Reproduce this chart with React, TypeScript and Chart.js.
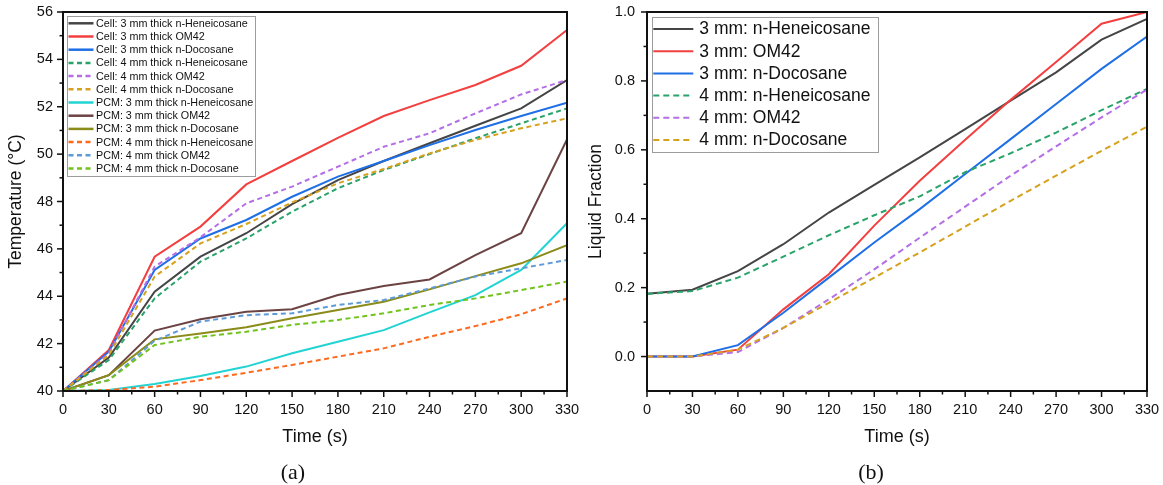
import React, { useEffect, useRef } from 'react';
import { Chart, registerables } from 'chart.js';

Chart.register(...registerables);

const SANS = '"Liberation Sans", Arial, Helvetica, sans-serif';
const SERIF = '"Liberation Serif", "Times New Roman", serif';

// ---------- shared ----------
const times = [0, 30, 60, 90, 120, 150, 180, 210, 240, 270, 300, 330];
const xMajorTicks = [0, 30, 60, 90, 120, 150, 180, 210, 240, 270, 300, 330];
const xMinorTicks = [15, 45, 75, 105, 135, 165, 195, 225, 255, 285, 315];

// ---------- (a) temperature ----------
const tempMajorTicks = [40, 42, 44, 46, 48, 50, 52, 54, 56];
const tempMinorTicks = [41, 43, 45, 47, 49, 51, 53, 55];

const cell3Hen = [40, 41.41, 44.19, 45.67, 46.66, 47.89, 48.9, 49.71, 50.46, 51.2, 51.93, 53.13];
const cell3OM42 = [40, 41.73, 45.67, 46.94, 48.72, 49.71, 50.69, 51.61, 52.28, 52.92, 53.73, 55.24];
const cell3Doc = [40, 41.66, 45.11, 46.44, 47.22, 48.2, 49.05, 49.71, 50.38, 51.02, 51.61, 52.17];
const cell4Hen = [40, 41.31, 43.91, 45.46, 46.44, 47.57, 48.56, 49.33, 50.0, 50.67, 51.3, 51.93];
const cell4OM42 = [40, 41.59, 45.25, 46.49, 47.92, 48.63, 49.47, 50.31, 50.88, 51.72, 52.52, 53.13];
const cell4Doc = [40, 41.52, 44.83, 46.23, 47.05, 47.96, 48.77, 49.37, 50.03, 50.6, 51.09, 51.51];
const pcm3Hen = [40, 40.04, 40.3, 40.63, 41.03, 41.59, 42.08, 42.57, 43.32, 44.05, 45.11, 47.08];
const pcm3OM42 = [40, 40.67, 42.55, 43.03, 43.35, 43.45, 44.05, 44.43, 44.71, 45.74, 46.66, 50.62];
const pcm3Doc = [40, 40.67, 42.18, 42.43, 42.69, 43.07, 43.42, 43.77, 44.29, 44.85, 45.39, 46.16];
const pcm4Hen = [40, 40.04, 40.18, 40.46, 40.77, 41.1, 41.45, 41.8, 42.29, 42.74, 43.24, 43.91];
const pcm4OM42 = [40, 40.46, 42.12, 42.93, 43.2, 43.28, 43.63, 43.84, 44.33, 44.83, 45.18, 45.53];
const pcm4Doc = [40, 40.46, 41.94, 42.29, 42.5, 42.79, 43.0, 43.28, 43.63, 43.91, 44.26, 44.62];

const tempLabels = [
  'Cell: 3 mm thick n-Heneicosane',
  'Cell: 3 mm thick OM42',
  'Cell: 3 mm thick n-Docosane',
  'Cell: 4 mm thick n-Heneicosane',
  'Cell: 4 mm thick OM42',
  'Cell: 4 mm thick n-Docosane',
  'PCM: 3 mm thick n-Heneicosane',
  'PCM: 3 mm thick OM42',
  'PCM: 3 mm thick n-Docosane',
  'PCM: 4 mm thick n-Heneicosane',
  'PCM: 4 mm thick OM42',
  'PCM: 4 mm thick n-Docosane',
];
const tempSeries = [cell3Hen, cell3OM42, cell3Doc, cell4Hen, cell4OM42, cell4Doc, pcm3Hen, pcm3OM42, pcm3Doc, pcm4Hen, pcm4OM42, pcm4Doc];
const tempColors = ['#454545', '#f23f3f', '#1f6fe6', '#2aa36b', '#b46ee6', '#d6a21e', '#22d3d3', '#6b4343', '#8b8b1a', '#fb6a1f', '#5f9ad8', '#72c21c'];
const tempDashed = [false, false, false, true, true, true, false, false, false, true, true, true];

// ---------- (b) liquid fraction ----------
const lfMajorTicks = [0, 0.2, 0.4, 0.6, 0.8, 1.0];
const lfMinorTicks = [0.1, 0.3, 0.5, 0.7, 0.9];

const lf3Hen = [0.182, 0.194, 0.248, 0.326, 0.418, 0.498, 0.578, 0.66, 0.743, 0.825, 0.92, 0.98];
const lf3OM42 = [0, 0, 0.02, 0.137, 0.239, 0.38, 0.51, 0.629, 0.745, 0.855, 0.966, 1.0];
const lf3Doc = [0, 0, 0.033, 0.127, 0.229, 0.331, 0.428, 0.53, 0.631, 0.733, 0.835, 0.929];
const lf4Hen = [0.182, 0.19, 0.229, 0.29, 0.352, 0.41, 0.465, 0.535, 0.59, 0.65, 0.715, 0.777];
const lf4OM42 = [0, 0, 0.013, 0.083, 0.166, 0.253, 0.345, 0.435, 0.525, 0.61, 0.694, 0.775];
const lf4Doc = [0, 0, 0.02, 0.083, 0.156, 0.229, 0.302, 0.377, 0.452, 0.525, 0.597, 0.667];

const lfLabels = ['3 mm: n-Heneicosane', '3 mm: OM42', '3 mm: n-Docosane', '4 mm: n-Heneicosane', '4 mm: OM42', '4 mm: n-Docosane'];
const lfSeries = [lf3Hen, lf3OM42, lf3Doc, lf4Hen, lf4OM42, lf4Doc];
const lfColors = ['#454545', '#f23f3f', '#1f6fe6', '#2aa36b', '#b46ee6', '#d6a21e'];
const lfDashed = [false, false, false, true, true, true];

// ---------- plugins ----------
const frameTicksPlugin = {
  id: 'frameTicks',
  afterDatasetsDraw(chart: any, _args: any, o: any) {
    const { ctx, chartArea: a, scales } = chart;
    const xs = scales.x;
    const ys = scales.y;
    ctx.save();
    ctx.strokeStyle = '#111';
    ctx.lineWidth = 1.5;
    ctx.setLineDash([]);
    const seg = (x1: number, y1: number, x2: number, y2: number) => {
      ctx.beginPath();
      ctx.moveTo(x1, y1);
      ctx.lineTo(x2, y2);
      ctx.stroke();
    };
    o.xMajor.forEach((v: number) => { const p = xs.getPixelForValue(v); seg(p, a.bottom, p, a.bottom + 6); });
    o.xMinor.forEach((v: number) => { const p = xs.getPixelForValue(v); seg(p, a.bottom, p, a.bottom + 3.5); });
    o.yMajor.forEach((v: number) => { const p = ys.getPixelForValue(v); seg(a.left, p, a.left - 6, p); });
    o.yMinor.forEach((v: number) => { const p = ys.getPixelForValue(v); seg(a.left, p, a.left - 3.5, p); });
    ctx.lineWidth = 2;
    ctx.strokeRect(a.left, a.top, a.right - a.left, a.bottom - a.top);
    ctx.restore();
  },
};

const boxLegendPlugin = {
  id: 'boxLegend',
  afterDraw(chart: any, _args: any, o: any) {
    const { ctx, chartArea: a } = chart;
    const x0 = a.left + o.dx;
    const y0 = a.top + o.dy;
    ctx.save();
    ctx.fillStyle = '#ffffff';
    ctx.fillRect(x0, y0, o.w, o.h);
    ctx.strokeStyle = '#9c9c9c';
    ctx.lineWidth = 1;
    ctx.strokeRect(Math.round(x0) + 0.5, Math.round(y0) + 0.5, o.w, o.h);
    ctx.font = `${o.fontSize}px ${SANS}`;
    ctx.textBaseline = 'middle';
    ctx.textAlign = 'left';
    chart.data.datasets.forEach((ds: any, i: number) => {
      const y = y0 + o.firstRow + i * o.rowH;
      ctx.strokeStyle = ds.borderColor;
      ctx.lineWidth = o.lineWidth;
      ctx.setLineDash(ds.borderDash || []);
      ctx.beginPath();
      ctx.moveTo(x0 + o.lineX0, y);
      ctx.lineTo(x0 + o.lineX1, y);
      ctx.stroke();
      ctx.setLineDash([]);
      ctx.fillStyle = '#111';
      ctx.fillText(ds.label, x0 + o.textX, y + 0.5);
    });
    ctx.restore();
  },
};

function buildDatasets(labels: string[], series: number[][], colors: string[], dashed: boolean[], dash: number[]) {
  return series.map((arr, i) => ({
    label: labels[i],
    data: times.map((t, j) => ({ x: t, y: arr[j] })),
    borderColor: colors[i],
    backgroundColor: colors[i],
    borderWidth: 2,
    borderDash: dashed[i] ? dash : [],
    pointRadius: 0,
    tension: 0,
    fill: false,
    order: -i,
  }));
}

const zeroPad = (s: any) => {
  s.paddingTop = 0;
  s.paddingBottom = 0;
  s.paddingLeft = 0;
  s.paddingRight = 0;
};

function axisOptions(opts: {
  yMin: number; yMax: number; yTicks: number[]; yTitle: string; yWidth: number;
  yPad: number; yTitlePad: number; yFmt: (v: number) => string;
}) {
  return {
    x: {
      type: 'linear',
      min: 0,
      max: 330,
      afterBuildTicks: (s: any) => { s.ticks = xMajorTicks.map((v) => ({ value: v })); },
      afterFit: (s: any) => { s.height = 60; zeroPad(s); },
      grid: { display: false, drawTicks: false },
      border: { display: false },
      ticks: {
        padding: 10,
        autoSkip: false,
        maxRotation: 0,
        color: '#111',
        font: { size: 14.5, family: SANS },
        callback: (v: any) => String(v),
      },
      title: {
        display: true,
        text: 'Time (s)',
        color: '#111',
        font: { size: 18, family: SANS },
        padding: { top: 0, bottom: 3 },
      },
    },
    y: {
      type: 'linear',
      min: opts.yMin,
      max: opts.yMax,
      afterBuildTicks: (s: any) => { s.ticks = opts.yTicks.map((v) => ({ value: v })); },
      afterFit: (s: any) => { s.width = opts.yWidth; zeroPad(s); },
      grid: { display: false, drawTicks: false },
      border: { display: false },
      ticks: {
        padding: opts.yPad,
        color: '#111',
        font: { size: 14.5, family: SANS },
        callback: (v: any) => opts.yFmt(Number(v)),
      },
      title: {
        display: true,
        text: opts.yTitle,
        color: '#111',
        font: { size: 17.5, family: SANS },
        padding: { top: opts.yTitlePad, bottom: 0 },
      },
    },
  };
}

function TempChart() {
  const ref = useRef<HTMLCanvasElement>(null);
  useEffect(() => {
    if (!ref.current) return;
    const chart = new Chart(ref.current, {
      type: 'line',
      data: { datasets: buildDatasets(tempLabels, tempSeries, tempColors, tempDashed, [5, 3.5]) as any },
      plugins: [frameTicksPlugin, boxLegendPlugin],
      options: {
        responsive: false,
        animation: false,
        devicePixelRatio: 1,
        layout: { padding: { left: 0, top: 12, right: 13, bottom: 34 } },
        plugins: {
          legend: { display: false },
          tooltip: { enabled: false },
          frameTicks: { xMajor: xMajorTicks, xMinor: xMinorTicks, yMajor: tempMajorTicks, yMinor: tempMinorTicks },
          boxLegend: {
            dx: 4, dy: 4, w: 188, h: 160, firstRow: 7.3, rowH: 13.2,
            lineX0: 1.5, lineX1: 26.5, textX: 29, fontSize: 10.75, lineWidth: 2.5,
          },
        } as any,
        scales: axisOptions({
          yMin: 40, yMax: 56, yTicks: tempMajorTicks, yTitle: 'Temperature (°C)', yWidth: 63,
          yPad: 10, yTitlePad: 5.5, yFmt: (v) => String(v),
        }) as any,
      },
    });
    return () => chart.destroy();
  }, []);
  return <canvas ref={ref} width={580} height={485} style={{ display: 'block' }} />;
}

function LiquidChart() {
  const ref = useRef<HTMLCanvasElement>(null);
  useEffect(() => {
    if (!ref.current) return;
    const chart = new Chart(ref.current, {
      type: 'line',
      data: { datasets: buildDatasets(lfLabels, lfSeries, lfColors, lfDashed, [6, 4]) as any },
      plugins: [frameTicksPlugin, boxLegendPlugin],
      options: {
        responsive: false,
        animation: false,
        devicePixelRatio: 1,
        layout: { padding: { left: 0, top: 12, right: 16, bottom: 34 } },
        plugins: {
          legend: { display: false },
          tooltip: { enabled: false },
          frameTicks: { xMajor: xMajorTicks, xMinor: xMinorTicks, yMajor: lfMajorTicks, yMinor: lfMinorTicks },
          boxLegend: {
            dx: 4.7, dy: 4.7, w: 226, h: 135, firstRow: 12.3, rowH: 22.2,
            lineX0: 1.6, lineX1: 41.6, textX: 47.6, fontSize: 17.5, lineWidth: 2,
          },
        } as any,
        scales: axisOptions({
          yMin: -0.1, yMax: 1.0, yTicks: lfMajorTicks, yTitle: 'Liquid Fraction', yWidth: 67,
          yPad: 12, yTitlePad: 5.5, yFmt: (v) => v.toFixed(1),
        }) as any,
      },
    });
    return () => chart.destroy();
  }, []);
  return <canvas ref={ref} width={583} height={485} style={{ display: 'block' }} />;
}

const capStyle: React.CSSProperties = {
  position: 'absolute',
  top: 459,
  width: 60,
  textAlign: 'center',
  fontFamily: SERIF,
  fontSize: 22,
  lineHeight: '26px',
  color: '#111',
};

export default function App() {
  return (
    <div style={{ position: 'absolute', left: 0, top: 0, width: 1163, height: 485, background: '#fff', overflow: 'hidden' }}>
      <div style={{ position: 'absolute', left: 0, top: 0, width: 580, height: 485 }}>
        <TempChart />
      </div>
      <div style={{ position: 'absolute', left: 580, top: 0, width: 583, height: 485 }}>
        <LiquidChart />
      </div>
      <div style={{ ...capStyle, left: 293 - 30 }}>(a)</div>
      <div style={{ ...capStyle, left: 871 - 30 }}>(b)</div>
    </div>
  );
}
